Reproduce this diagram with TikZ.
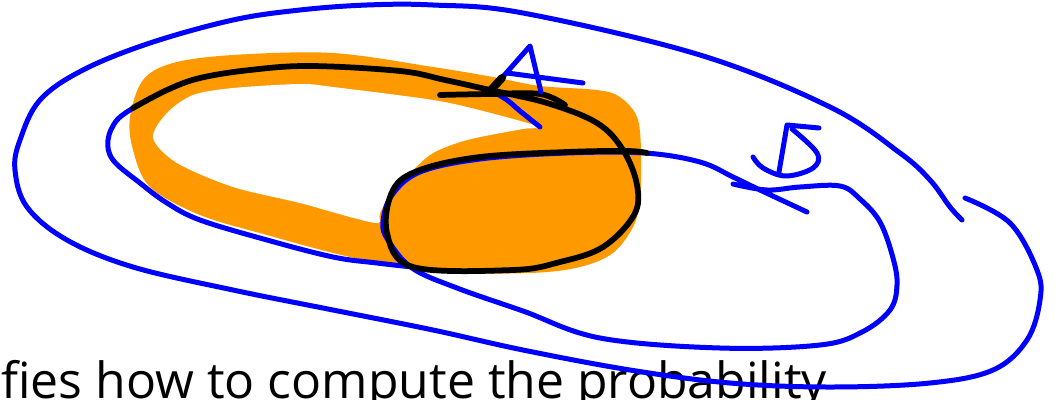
\documentclass[tikz,border=0pt]{standalone}
\usepackage{fontspec}
\setmainfont{Open Sans}
\definecolor{penBlue}{HTML}{0000FF}
\definecolor{hlOrange}{HTML}{FF9900}

\begin{document}
\begin{tikzpicture}[x=0.02cm, y=-0.02cm,
  bluepen/.style={draw=penBlue, line width=0.1cm, line cap=round, line join=round},
  blackpen/.style={draw=black, line width=0.115cm, line cap=round, line join=round}]
  \useasboundingbox (0,0) rectangle (1060,399);
  \clip (0,0) rectangle (1060,399);

  % Caption line, cut at the bottom
  \node[anchor=base west, inner sep=0, font=\fontsize{28.4}{32}\selectfont] (caption) at (1,398)
    {fies how to compute the probability};

  % Orange highlight of A
  \fill[hlOrange] plot[smooth cycle, tension=0.55] coordinates {
    (143,80) (173,63) (233,55) (333,53) (433,67) (493,77) (540,86) (597,90)
    (620,97) (637,117) (641,150) (640,200) (633,227) (613,253) (580,267)
    (530,273) (433,272) (350,257) (267,235) (200,215) (150,187) (133,150) (130,117)};
  \fill[white] plot[smooth cycle, tension=0.5] coordinates {
    (153,138) (167,113) (193,95) (233,88) (300,84) (333,87) (433,100) (483,111)
    (540,127) (523,129) (467,140) (433,153) (413,170) (393,190) (380,213)
    (378,223) (350,217) (300,203) (233,187) (177,163)};

  % Outer set
  \draw[bluepen] plot[smooth, tension=0.6] coordinates {
    (965,198) (1010,223) (1037,270) (1040,300) (1027,340) (993,370) (930,383)
    (830,387) (730,383) (630,370) (523,350) (433,330) (333,310) (233,290)
    (133,267) (67,240) (27,207) (15,170) (20,140) (40,100) (83,70) (150,43)
    (233,20) (300,10) (367,5) (433,5) (523,13) (700,55) (830,107) (900,153)
    (930,180) (950,207) (962,220)};

  % Set A
  \draw[bluepen] plot[smooth, tension=0.6] coordinates {
    (540,127) (520,111) (507,100) (492,91)};
  \draw[bluepen] plot[smooth, tension=0.6] coordinates {
    (135,107) (117,120) (108,140) (113,160) (140,183) (167,203) (200,220)
    (267,240) (333,257) (377,263) (412,267)};

  % Set B
  \draw[bluepen] plot[smooth, tension=0.6] coordinates {
    (733,184) (767,190) (800,187) (840,186) (860,199) (880,222) (893,258)
    (897,285) (890,310) (862,332) (820,345) (720,348) (600,338) (523,311)
    (457,288) (412,268) (388,240) (383,222) (392,195) (420,172) (480,159)
    (567,153) (645,153) (700,162) (733,177) (760,190) (807,212)};

  % Black strokes over A and the overlap
  \draw[blackpen] plot[smooth, tension=0.6] coordinates {
    (133,108) (167,90) (200,78) (250,70) (310,66) (400,71) (445,80) (490,90)
    (547,103) (597,123) (623,150) (637,185) (634,215) (603,247) (560,262)
    (513,270) (413,267) (387,233) (393,190) (420,170) (480,157) (567,152)
    (627,151) (647,153)};
  \draw[blackpen] plot[smooth, tension=0.6] coordinates {
    (440,95) (490,94) (540,94) (565,105)};

  % Letter A
  \draw[bluepen] (493,88) -- (530,46) -- (541,92);
  \draw[bluepen] (507,73) -- (583,83);
  \draw[blackpen, line width=0.16cm] (490,91) -- (502,78);

  % Letter B
  \draw[bluepen] (779,172) -- (787,125) -- (819,128);
  \draw[bluepen] plot[smooth, tension=0.6] coordinates {
    (792,129) (817,153) (813,168) (786,176) (763,168) (753,157)};
\end{tikzpicture}
\end{document}
